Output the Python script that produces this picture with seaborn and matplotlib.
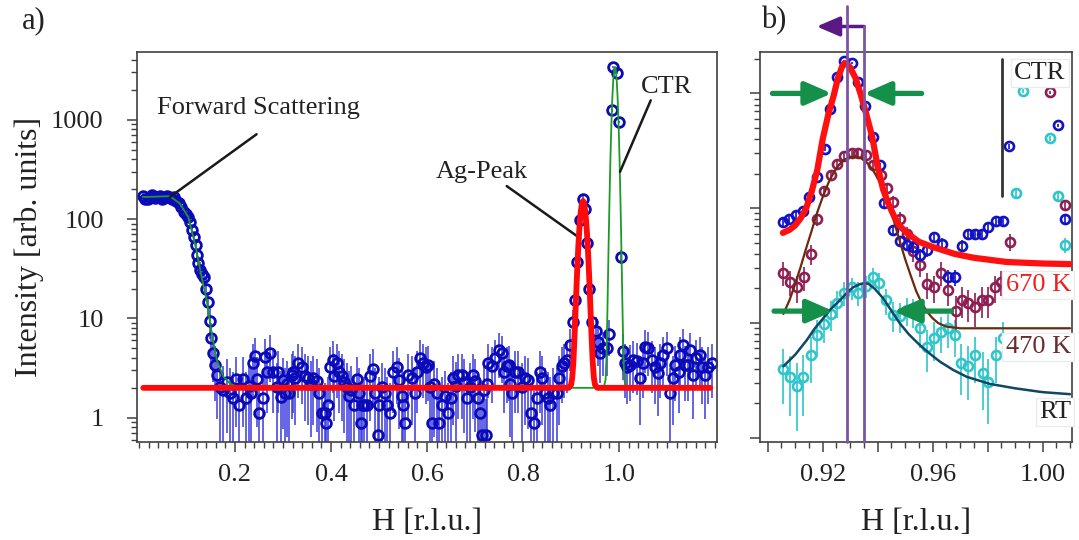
import numpy as np
import matplotlib
matplotlib.use("Agg")
import matplotlib.pyplot as plt
import seaborn as sns
from matplotlib.ticker import FixedLocator, MultipleLocator, LogLocator, NullFormatter, FuncFormatter

sns.set_theme(style="ticks")
plt.rcParams["font.family"] = ["Liberation Serif", "DejaVu Serif"]

# ---- panel a) : scan over H ----
# forward scattering region
fs_h = [0.008, 0.013, 0.018, 0.023, 0.028, 0.033, 0.038, 0.043, 0.048, 0.053,
        0.058, 0.063, 0.068, 0.073, 0.078, 0.083, 0.088, 0.093, 0.098, 0.103,
        0.107, 0.111, 0.115, 0.118, 0.121, 0.124, 0.127, 0.131, 0.135, 0.139,
        0.143, 0.147, 0.151, 0.155, 0.159, 0.163]
fs_i = [172, 160, 158, 168, 175, 162, 165, 170, 160, 163,
        172, 168, 160, 165, 152, 145, 133, 118, 112, 105,
        94, 78, 66, 55, 44, 36, 31, 28, 26, 20,
        14.5, 9.5, 6.3, 4.5, 3.4, 2.7]

# background between forward scattering and Ag peak
bg_h = [0.169, 0.176, 0.183, 0.190, 0.196, 0.202, 0.209, 0.217, 0.224, 0.229,
        0.233, 0.237, 0.242, 0.246, 0.251, 0.258, 0.263, 0.266, 0.272, 0.280,
        0.287, 0.290, 0.295, 0.300, 0.304, 0.309, 0.313, 0.318, 0.321, 0.325,
        0.332, 0.339, 0.346, 0.352, 0.358, 0.363, 0.370, 0.376, 0.381, 0.388,
        0.390, 0.394, 0.397, 0.404, 0.407, 0.412, 0.417, 0.422, 0.428, 0.433,
        0.437, 0.442, 0.447, 0.454, 0.459, 0.462, 0.465, 0.468, 0.474, 0.481,
        0.488, 0.492, 0.497, 0.501, 0.506, 0.513, 0.517, 0.523, 0.530, 0.537,
        0.542, 0.547, 0.551, 0.555, 0.561, 0.568, 0.575, 0.579, 0.585, 0.592,
        0.598, 0.603, 0.606, 0.610, 0.615, 0.620, 0.625, 0.631, 0.638, 0.644,
        0.651, 0.655, 0.660, 0.665, 0.672, 0.677, 0.683, 0.690, 0.695, 0.700,
        0.707, 0.710, 0.714, 0.719, 0.722, 0.725, 0.728, 0.735, 0.742, 0.749,
        0.756, 0.760, 0.766, 0.770, 0.773, 0.777, 0.783, 0.790, 0.797, 0.804,
        0.811, 0.816, 0.823, 0.829, 0.835, 0.839, 0.846, 0.853, 0.857, 0.863,
        0.870, 0.874, 0.881, 0.885, 0.891]
bg_i = [2.06, 1.9, 2.3, 1.77, 1.58, 2.45, 1.35, 2.45, 1.58, 2.1,
        1.77, 3.55, 4.2, 2.45, 1.11, 1.58, 4.13, 2.92, 4.53, 2.92,
        2.06, 2.92, 1.6, 2.4, 1.77, 2.2, 1.77, 2.7, 2.92, 2.5,
        3.55, 3.28, 2.64, 2.5, 2.2, 2.5, 2.32, 1.77, 1.11, 1.11,
        0.88, 1.35, 3.28, 3.83, 2.64, 3.55, 2.92, 2.64, 2.3, 2.06,
        1.64, 1.9, 1.35, 2.45, 1.77, 0.88, 1.35, 1.35, 1.35, 2.64,
        3.1, 1.77, 0.67, 1.35, 2.06, 1.77, 1.35, 1.11, 2.92, 3.28,
        2.4, 1.64, 1.35, 0.88, 2.7, 2.5, 1.77, 2.92, 4.0, 3.55,
        3.28, 3.4, 2.06, 0.88, 2.2, 1.77, 0.88, 1.35, 1.64, 1.11,
        1.58, 2.5, 2.1, 2.7, 2.7, 2.3, 1.58, 2.06, 2.7, 2.32,
        1.58, 1.11, 0.67, 1.9, 0.67, 2.2, 3.55, 3.3, 4.0, 4.83,
        4.47, 2.92, 3.3, 3.4, 2.2, 1.77, 2.92, 2.92, 2.06, 2.5,
        2.4, 1.11, 0.88, 1.58, 2.92, 2.5, 1.77, 1.58, 1.35, 1.77,
        1.77, 2.5, 3.3, 3.55, 3.83]

# Ag peak and CTR
pk_h = [0.898, 0.9035, 0.908, 0.913, 0.919, 0.9256, 0.930, 0.933, 0.937, 0.9445,
        0.952, 0.957, 0.961, 0.967, 0.974, 0.980, 0.985, 0.988, 0.9965, 1.000,
        1.0035]
pk_i = [5.4, 9.1, 15.3, 36.7, 99, 158, 125, 57, 19.7, 9.3,
        7.4, 5.85, 4.47, 5.0, 5.0, 6.9, 1245, 3390, 2950, 950,
        42]

# background above the CTR
tail_h = [1.008, 1.012, 1.016, 1.023, 1.030, 1.037, 1.044, 1.050, 1.054, 1.061,
          1.068, 1.075, 1.082, 1.085, 1.092, 1.099, 1.106, 1.113, 1.117, 1.124,
          1.127, 1.133, 1.1375, 1.144, 1.148, 1.155, 1.160, 1.169, 1.172, 1.179,
          1.186, 1.193]
tail_i = [4.7, 3.55, 3.28, 3.41, 3.83, 3.7, 2.5, 3.55, 5.2, 5.0,
          3.83, 3.28, 2.8, 3.55, 4.3, 5.0, 1.77, 2.5, 3.4, 2.92,
          4.3, 5.4, 3.4, 3.4, 4.83, 2.7, 3.98, 4.3, 3.28, 2.7,
          3.28, 3.55]

# fits of panel a)
green_h = [0.008, 0.0125, 0.0646, 0.0854, 0.1027, 0.113, 0.1195, 0.1235, 0.1306, 0.141,
           0.1515, 0.162, 0.1756, 0.19, 0.21, 0.968, 0.972, 0.974, 0.976, 0.978,
           0.980, 0.982, 0.984, 0.986, 0.988, 0.990, 0.9915, 0.993, 0.995, 0.997,
           0.999, 1.001, 1.003, 1.005, 1.007, 1.009, 1.011, 1.015, 1.19]
green_i = [168, 167, 170, 143, 105, 66, 49, 39, 26, 15.3,
           7.1, 3.83, 2.6, 2.2, 2.0, 2.0, 2.43, 4.45, 13.6, 47.8,
           149, 406, 902, 1665, 2548, 3226, 3402, 3226, 2548, 1665,
           902, 406, 149, 47.8, 13.6, 4.45, 2.43, 2.0, 2.0]

red_h = [0.009, 0.895, 0.900, 0.9025, 0.905, 0.9075, 0.910, 0.9125, 0.915, 0.9175,
         0.920, 0.9225, 0.925, 0.9275, 0.930, 0.9325, 0.935, 0.9375, 0.940, 0.9425,
         0.945, 0.9475, 0.950, 0.955, 1.19]
red_i = [2.0, 2.0, 2.14, 2.53, 3.74, 6.96, 14.3, 28.3, 51.2, 82.2,
         115.6, 142, 152, 142, 115.6, 82.2, 51.2, 28.3, 14.3, 6.96,
         3.74, 2.53, 2.14, 2.0, 2.0]

# ---- panel b) : zoom on the Ag peak at three temperatures ----
k670_h = [0.9055, 0.9079, 0.9103, 0.9127, 0.9151, 0.918, 0.9208, 0.9227, 0.9253, 0.9277,
          0.9307, 0.933, 0.9354, 0.9382, 0.9408, 0.9423, 0.9457, 0.9481, 0.9505, 0.953,
          0.9554, 0.958, 0.9605, 0.9633, 0.9657, 0.9681, 0.9705, 0.973, 0.9754, 0.9778,
          0.9802, 0.983, 0.9857, 0.9878, 1.0057, 1.0081]
k670_i = [76, 81, 87, 94, 125, 187, 331, 735, 1385, 1930,
          1830, 1270, 772, 420, 237, 110, 64, 52, 47.5, 46,
          39, 43, 56, 49, 25, 25, 47, 60, 60, 60,
          68, 77.6, 77.6, 346, 527, 81]

k470_h = [0.9055, 0.9081, 0.9105, 0.9132, 0.9156, 0.918, 0.9205, 0.9229, 0.9253, 0.9277,
          0.9305, 0.933, 0.9357, 0.9384, 0.9411, 0.9433, 0.9457, 0.9481, 0.9505, 0.953,
          0.9554, 0.9578, 0.9605, 0.9629, 0.9657, 0.9685, 0.9705, 0.973, 0.9754, 0.9778,
          0.9802, 0.9827, 0.9847, 0.9881, 1.0027, 1.0081]
k470_i = [27.4, 22.9, 20.4, 25, 39.9, 81, 141, 194, 245, 284,
          302, 302, 290, 237, 194, 149, 114, 81, 60, 42,
          32, 21.8, 20.4, 27.4, 19.4, 12.8, 15.8, 14.9, 13.7, 15.8,
          15.8, 20.4, 22.9, 51, 1020, 106]

rt_h = [0.9055, 0.9081, 0.9105, 0.913, 0.9156, 0.918, 0.9205, 0.9229, 0.9253, 0.9277,
        0.9305, 0.933, 0.9357, 0.9382, 0.9406, 0.943, 0.9455, 0.9481, 0.9505, 0.953,
        0.9554, 0.958, 0.9605, 0.9629, 0.9657, 0.9681, 0.9702, 0.973, 0.9754, 0.9782,
        0.9802, 0.983, 0.9855, 0.9903, 0.993, 1.0027, 1.0057, 1.0081]
rt_i = [3.96, 3.37, 2.83, 3.41, 5.27, 7.86, 9.8, 12, 15, 18.3,
        20.4, 18.3, 21, 25.3, 22.4, 15.8, 11.7, 11.5, 13, 12.5,
        9, 6.2, 7.4, 8.4, 9, 7.9, 4.46, 4.2, 5.27, 3.65,
        3.09, 5.27, 7.4, 135, 1050, 405, 128, 47.6]

fit670_h = [0.9055, 0.908, 0.910, 0.912, 0.914, 0.916, 0.918, 0.920, 0.922, 0.924,
            0.9255, 0.927, 0.928, 0.929, 0.930, 0.932, 0.934, 0.936, 0.938, 0.940,
            0.942, 0.944, 0.946, 0.948, 0.951, 0.955, 0.960, 0.968, 0.975, 0.987,
            1.000, 1.010]
fit670_i = [61, 65, 71, 82, 100, 140, 214, 400, 650, 960,
            1350, 1700, 1840, 1790, 1680, 1350, 950, 640, 420, 230,
            145, 108, 85, 70, 60, 51, 46, 40, 37, 34,
            33, 32.6]

fit470_h = [0.9057, 0.908, 0.910, 0.912, 0.914, 0.916, 0.918, 0.920, 0.922, 0.924,
            0.926, 0.928, 0.930, 0.932, 0.934, 0.936, 0.938, 0.940, 0.942, 0.944,
            0.946, 0.948, 0.950, 0.952, 0.954, 0.956, 0.958, 0.960, 0.962, 0.965,
            0.970, 1.010]
fit470_i = [12, 16, 22, 31, 45, 64, 92, 125, 165, 205,
            240, 266, 279, 281, 272, 250, 220, 183, 143, 107,
            76, 52, 36, 26, 19, 15, 12.5, 11, 10, 9.3,
            9.0, 9.0]

fitrt_h = [0.9057, 0.910, 0.9142, 0.917, 0.9202, 0.923, 0.9263, 0.929, 0.9311, 0.9335,
           0.935, 0.9366, 0.939, 0.942, 0.945, 0.9481, 0.9515, 0.9554, 0.959, 0.9627,
           0.9675, 0.9724, 0.9808, 0.990, 1.000, 1.010]
fitrt_i = [4.2, 5.3, 7.1, 8.9, 11, 13.3, 15.8, 18.5, 20.5, 21.8,
           22.2, 22.0, 19.8, 16.4, 12.8, 9.9, 7.9, 6.4, 5.4, 4.6,
           3.9, 3.4, 2.95, 2.7, 2.5, 2.4]

peak_pos = [0.9290, 0.9351]   # peak centres marked by purple lines

# ---- figure ----
fig = plt.figure(figsize=(10.79, 5.40), dpi=100)
ax1 = fig.add_axes([0.127, 0.1815, 0.5375, 0.722])
ax2 = fig.add_axes([0.7044, 0.1815, 0.2891, 0.722])

for ax in (ax1, ax2):
    ax.set_yscale("log")
    for sp in ax.spines.values():
        sp.set_color("#404040")
        sp.set_linewidth(1.2)
    ax.tick_params(which="major", direction="out", length=7, width=1.1, color="#404040",
                   labelsize=19, labelcolor="#222222")
    ax.tick_params(which="minor", direction="out", length=4, width=1.0, color="#404040")
    ax.tick_params(axis="x", pad=9)
    ax.tick_params(axis="y", pad=17)

# panel a)
h_all = np.array(fs_h + bg_h + pk_h + tail_h)
i_all = np.array(fs_i + bg_i + pk_i + tail_i)
ax1.errorbar(h_all, i_all, yerr=1.05 * np.sqrt(i_all), fmt="o", ms=7, mfc="none",
             mec="#0a0ab8", mew=2.0, ecolor="#3a3ade", elinewidth=1.1, capsize=0, zorder=2)
sns.lineplot(x=green_h, y=green_i, ax=ax1, color="#1c9a25", lw=1.3, estimator=None, zorder=3)
sns.lineplot(x=red_h, y=red_i, ax=ax1, color="#ff0a0a", lw=4.2, estimator=None, zorder=4)

ax1.set_xlim(-0.004, 1.204)
ax1.set_ylim(0.57, 4800)
ax1.xaxis.set_major_locator(FixedLocator([0.2, 0.4, 0.6, 0.8, 1.0]))
ax1.xaxis.set_minor_locator(MultipleLocator(0.02))
ax1.xaxis.set_major_formatter(FuncFormatter(lambda v, p: f"{v:.1f}"))
ax1.yaxis.set_major_locator(FixedLocator([1, 10, 100, 1000]))
ax1.yaxis.set_major_formatter(FuncFormatter(lambda v, p: f"{v:g}"))
ax1.yaxis.set_minor_locator(LogLocator(base=10, subs=np.arange(2, 10), numticks=20))
ax1.yaxis.set_minor_formatter(NullFormatter())
ax1.set_xlabel("H [r.l.u.]", fontsize=23, color="#222222")
ax1.set_ylabel("Intensity [arb. units]", fontsize=23, color="#222222")
ax1.xaxis.set_label_coords(0.5, -0.17)
ax1.yaxis.set_label_coords(-0.16, 0.5)

ann = dict(fontsize=19, color="#222222")
ax1.text(0.0375, 1306, "Forward Scattering", ha="left", va="center", **ann)
ax1.annotate("", xy=(0.0646, 167), xytext=(0.245, 715),
             arrowprops=dict(arrowstyle="-", lw=1.8, color="#1a1a1a", shrinkA=0, shrinkB=0))
ax1.text(0.7146, 297, "Ag-Peak", ha="center", va="center", **ann)
ax1.annotate("", xy=(0.919, 64), xytext=(0.766, 215),
             arrowprops=dict(arrowstyle="-", lw=1.8, color="#1a1a1a", shrinkA=0, shrinkB=0))
ax1.text(1.098, 2122, "CTR", ha="center", va="center", **ann)
ax1.annotate("", xy=(1.002, 299), xytext=(1.066, 1570),
             arrowprops=dict(arrowstyle="-", lw=1.8, color="#1a1a1a", shrinkA=0, shrinkB=0))

# panel b)
for hh, ii, col, k in [(rt_h, rt_i, "#2ec6cb", 1.0), (k470_h, k470_i, "#8e1d50", 1.2),
                       (k670_h, k670_i, "#1212c4", 0.8)]:
    ii = np.array(ii)
    ax2.errorbar(hh, ii, yerr=k * np.sqrt(ii), fmt="o", ms=6.5, mfc="none", mec=col,
                 mew=1.9, ecolor=col, elinewidth=1.2, capsize=0, zorder=2)
sns.lineplot(x=fitrt_h, y=fitrt_i, ax=ax2, color="#0e4866", lw=1.8, estimator=None, zorder=3)
sns.lineplot(x=fit470_h, y=fit470_i, ax=ax2, color="#6b2a0c", lw=1.6, estimator=None, zorder=3)
sns.lineplot(x=fit670_h, y=fit670_i, ax=ax2, color="#ff1010", lw=4.5, estimator=None, zorder=4)

ax2.set_xlim(0.8972, 1.0107)
ax2.set_ylim(0.92, 2290)
ax2.xaxis.set_major_locator(FixedLocator([0.90, 0.92, 0.94, 0.96, 0.98, 1.00]))
ax2.xaxis.set_minor_locator(MultipleLocator(0.005))
ax2.xaxis.set_major_formatter(FuncFormatter(
    lambda v, p: f"{v:.2f}" if round(v * 100) % 4 == 0 else ""))
ax2.yaxis.set_major_locator(FixedLocator([1, 10, 100, 1000]))
ax2.yaxis.set_major_formatter(NullFormatter())
ax2.yaxis.set_minor_locator(LogLocator(base=10, subs=np.arange(2, 10), numticks=20))
ax2.yaxis.set_minor_formatter(NullFormatter())
ax2.set_xlabel("H [r.l.u.]", fontsize=23, color="#222222")
ax2.xaxis.set_label_coords(0.5, -0.17)

# peak-position markers and shift arrow
ax2.plot([peak_pos[0]] * 2, [0.92, 5823], color="#7a55a6", lw=2, clip_on=False, zorder=5)
ax2.plot([peak_pos[1]] * 2, [0.92, 3828], color="#7a55a6", lw=2, clip_on=False, zorder=5)
ax2.annotate("", xy=(0.9178, 3828), xytext=(peak_pos[1], 3828), annotation_clip=False,
             arrowprops=dict(arrowstyle="-|>,head_length=0.7,head_width=0.3", lw=2.5,
                             color="#5a1a85", shrinkA=0, shrinkB=0, mutation_scale=20))

# FWHM arrows
green = "#14904a"
arr = dict(arrowstyle="-|>,head_length=0.8,head_width=0.35", lw=3.8, color=green,
           shrinkA=0, shrinkB=0, mutation_scale=20)
for x0, x1, yv in [(0.9017, 0.9233, 1000), (0.956, 0.935, 1000),
                   (0.9023, 0.9239, 12.7), (0.9669, 0.9457, 12.7)]:
    ax2.annotate("", xy=(x1, yv), xytext=(x0, yv), arrowprops=arr, zorder=6)

ax2.plot([0.9853, 0.9853], [128, 2004], color="#333333", lw=2, zorder=5)

box = dict(boxstyle="square,pad=0.12", fc="white", ec="#ebebeb", lw=1)
ax2.text(0.999, 1503, "CTR", ha="center", va="center", fontsize=19, color="#222222",
         bbox=box, zorder=10)
ax2.text(1.0103, 21.4, "670 K", ha="right", va="center", fontsize=19, color="#ee2020",
         bbox=box, zorder=10)
ax2.text(1.0103, 6.22, "470 K", ha="right", va="center", fontsize=19, color="#6b2b2b",
         bbox=box, zorder=10)
ax2.text(1.0103, 1.69, "RT", ha="right", va="center", fontsize=19, color="#222222",
         bbox=box, zorder=10)

fig.text(0.031, 0.962, "a)", fontsize=22, ha="center", va="center", color="#222222")
fig.text(0.717, 0.962, "b)", fontsize=22, ha="center", va="center", color="#222222")

fig.savefig("out.png", dpi=100, facecolor="white")
